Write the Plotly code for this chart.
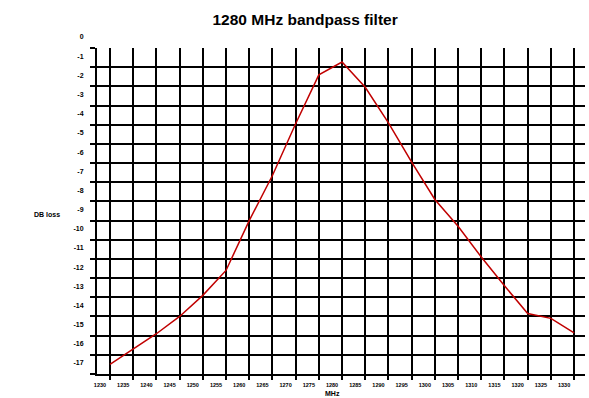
import plotly.graph_objects as go

freqs = [1230, 1235, 1240, 1245, 1250, 1255, 1260, 1265, 1270, 1275, 1280,
         1285, 1290, 1295, 1300, 1305, 1310, 1315, 1320, 1325, 1330]
db_loss = [-16.5, -15.7, -14.9, -14.0, -12.9, -11.6, -9.0, -6.65, -3.95, -1.4, -0.73,
           -2.05, -3.9, -5.95, -7.9, -9.3, -10.9, -12.4, -13.85, -14.1, -14.85]
y_ticks = list(range(0, -18, -1))
x_labels = [str(f) for f in freqs]

fig = go.Figure()
fig.add_trace(go.Scatter(x=list(range(len(freqs))), y=db_loss, mode="lines",
                         line=dict(color="#c00000", width=1.5), showlegend=False))

fig.update_layout(
    width=589, height=398,
    margin=dict(l=97, r=4, t=48, b=24, autoexpand=False),
    paper_bgcolor="white", plot_bgcolor="white",
    title=dict(text="<b>1280 MHz bandpass filter</b>", x=0.518, xanchor="center",
               y=0.95, yanchor="middle",
               font=dict(family="Liberation Sans, Arial", size=15.5, color="black")),
    font=dict(family="Liberation Sans, Arial", color="black"),
)
fig.update_xaxes(
    range=[-0.56, 20.47], tickmode="array",
    tickvals=list(range(len(freqs))), ticktext=["<b>%s</b>" % t for t in x_labels],
    showgrid=True, gridcolor="black", gridwidth=2,
    showline=True, linecolor="black", linewidth=2,
    ticks="outside", ticklen=4, tickwidth=2, tickcolor="black",
    tickfont=dict(size=5.5, color="black"), ticklabelshift=-10, ticklabelstandoff=0,
    zeroline=False, automargin=False,
)
fig.update_yaxes(
    range=[-17, 0], tickmode="array", tickvals=y_ticks,
    ticktext=["<b>%d</b>" % v for v in y_ticks],
    showgrid=True, gridcolor="black", gridwidth=2,
    showline=True, linecolor="black", linewidth=2,
    ticks="outside", ticklen=5, tickwidth=2, tickcolor="black",
    tickfont=dict(size=7, color="black"), ticklabelshift=-11, ticklabelstandoff=5,
    zeroline=False, automargin=False,
)
fig.add_annotation(text="<b>DB loss</b>", xref="paper", yref="paper",
                   x=-0.072, y=0.49, xanchor="right", yanchor="middle",
                   showarrow=False, font=dict(size=7, color="black"))
fig.add_annotation(text="<b>MHz</b>", xref="paper", yref="paper",
                   x=0.482, y=-0.06, xanchor="center", yanchor="middle",
                   showarrow=False, font=dict(size=7, color="black"))
fig.write_html("out.html", config={"displayModeBar": False},
               post_script="document.body.style.margin='0';")
